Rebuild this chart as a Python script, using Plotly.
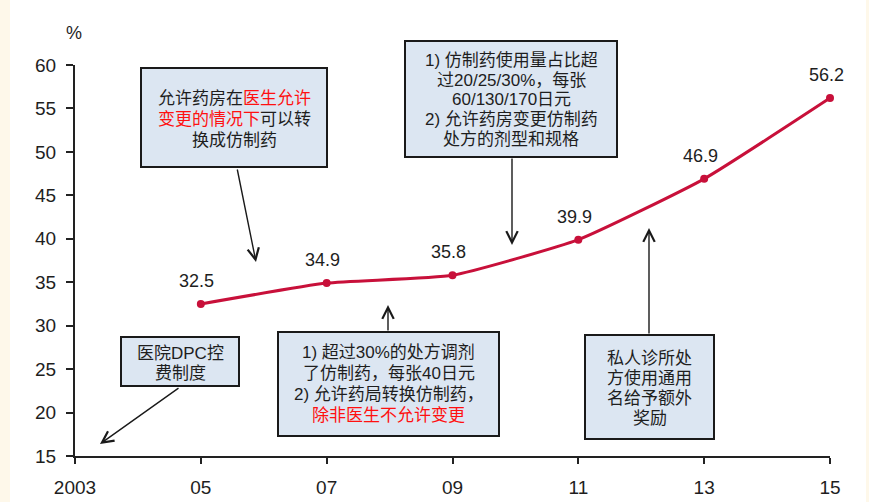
import plotly.graph_objects as go

# ---------------- data ----------------
years = [2005, 2007, 2009, 2011, 2013, 2015]
share = [32.5, 34.9, 35.8, 39.9, 46.9, 56.2]
x_tickvals = [2003, 2005, 2007, 2009, 2011, 2013, 2015]
x_ticktext = ["2003", "05", "07", "09", "11", "13", "15"]
y_tickvals = [15, 20, 25, 30, 35, 40, 45, 50, 55, 60]
y_unit = "%"

RED = "#FF1010"
def red(s):
    return f'<span style="color:{RED}">{s}</span>'

box_a_lines = ["允许药房在" + red("医生允许"), red("变更的情况下") + "可以转", "换成仿制药"]
box_b_lines = ["1) 仿制药使用量占比超", "过20/25/30%，每张", "60/130/170日元",
               "2) 允许药房变更仿制药", "处方的剂型和规格"]
box_c_lines = ["1) 超过30%的处方调剂", "了仿制药，每张40日元", "2) 允许药局转换仿制药，",
               red("除非医生不允许变更")]
box_d_lines = ["私人诊所处", "方使用通用", "名给予额外", "奖励"]
box_e_lines = ["医院DPC控", "费制度"]

# ---------------- geometry helpers (pixel -> axis / paper coords) ----------------
W, H = 869, 502
XL, XR = 75, 830      # plot area pixel edges
YT, YB = 65, 456
XMIN, XMAX = 2003, 2015
YMIN, YMAX = 15, 60

def dx(p):
    return XMIN + (p - XL) * (XMAX - XMIN) / (XR - XL)

def dy(p):
    return YMAX - (p - YT) * (YMAX - YMIN) / (YB - YT)

def px_paper_x(p):
    return (p - XL) / (XR - XL)

def px_paper_y(p):
    return (YB - p) / (YB - YT)

LINE_COLOR = "#C8103A"
TEXT = "#1E1E1E"
FONT = "Liberation Sans, Arial, Noto Sans CJK SC"
CJK_FONT = "Liberation Sans, Noto Sans CJK SC"

fig = go.Figure()
fig.add_trace(go.Scatter(
    x=years, y=share, mode="lines+markers",
    line=dict(color=LINE_COLOR, width=3, shape="spline", smoothing=0.45),
    marker=dict(color=LINE_COLOR, size=8),
    cliponaxis=False, showlegend=False, hoverinfo="x+y",
))

shapes = []
annotations = []

# cream side strips
shapes.append(dict(type="rect", xref="paper", yref="paper",
                   x0=px_paper_x(0), x1=px_paper_x(10), y0=px_paper_y(H), y1=px_paper_y(0),
                   fillcolor="#FEF8EA", line=dict(width=0), layer="below"))
shapes.append(dict(type="rect", xref="paper", yref="paper",
                   x0=px_paper_x(866), x1=px_paper_x(W), y0=px_paper_y(H), y1=px_paper_y(0),
                   fillcolor="#FEF8EA", line=dict(width=0), layer="below"))

# data labels
for xv, yv in zip(years, share):
    annotations.append(dict(x=xv, y=yv, xref="x", yref="y", text=f"{yv:.1f}",
                            showarrow=False, yshift=23, xshift=-4,
                            font=dict(family=FONT, size=18, color=TEXT)))

# unit label
annotations.append(dict(x=px_paper_x(74), y=px_paper_y(33), xref="paper", yref="paper",
                        text=y_unit, showarrow=False, xanchor="center", yanchor="middle",
                        font=dict(family=FONT, size=18, color=TEXT)))

def add_box(x0, x1, y0, y1, lines, ys):
    shapes.append(dict(type="rect", xref="paper", yref="paper",
                       x0=px_paper_x(x0), x1=px_paper_x(x1),
                       y0=px_paper_y(y1), y1=px_paper_y(y0),
                       fillcolor="#DCE6F2", line=dict(color="#1A1A1A", width=2),
                       layer="above"))
    cx = px_paper_x((x0 + x1) / 2)
    for txt, yy in zip(lines, ys):
        annotations.append(dict(x=cx, y=px_paper_y(yy), xref="paper", yref="paper", text=txt,
                                showarrow=False, xanchor="center", yanchor="middle",
                                font=dict(family=CJK_FONT, size=17, color=TEXT)))

def add_arrow(tx, ty, hx, hy):
    annotations.append(dict(x=dx(hx), y=dy(hy), ax=dx(tx), ay=dy(ty),
                            xref="x", yref="y", axref="x", ayref="y",
                            text="", showarrow=True, arrowhead=5, arrowsize=1.6,
                            arrowwidth=1.4, arrowcolor="#1A1A1A", standoff=0,
                            startstandoff=0))

add_box(141, 327, 68, 167, box_a_lines, [98, 119, 140])
add_box(405, 617, 41, 157, box_b_lines, [60, 80, 99, 119, 139])
add_box(278, 499, 332, 436, box_c_lines, [352, 373, 394, 415])
add_box(585, 714, 335, 439, box_d_lines, [358, 378, 398, 418])
add_box(121, 239, 337, 386, box_e_lines, [353, 373])

add_arrow(237, 168, 256, 262)
add_arrow(512, 157, 512, 245)
add_arrow(388, 332, 388, 305)
add_arrow(649, 335, 649, 228)
add_arrow(180, 387, 100, 444)

fig.update_layout(
    width=W, height=H, autosize=False,
    margin=dict(l=XL, r=W - XR, t=YT, b=H - YB, pad=0, autoexpand=False),
    paper_bgcolor="white", plot_bgcolor="white",
    shapes=shapes, annotations=annotations,
    showlegend=False,
)
fig.update_xaxes(range=[XMIN, XMAX], tickvals=x_tickvals, ticktext=x_ticktext,
                 automargin=False,
                 showgrid=False, zeroline=False, showline=True, linecolor="#222222",
                 linewidth=2, ticks="outside", ticklen=6, tickwidth=2, tickcolor="#222222",
                 ticklabelstandoff=7,
                 tickfont=dict(family=FONT, size=19, color=TEXT))
fig.update_yaxes(range=[YMIN, YMAX], tickvals=y_tickvals, automargin=False,
                 showgrid=False, zeroline=False, showline=True, linecolor="#222222",
                 linewidth=2, ticks="outside", ticklen=7, tickwidth=2, tickcolor="#222222",
                 ticklabelstandoff=6,
                 tickfont=dict(family=FONT, size=19, color=TEXT))

fig.write_html("out.html")
